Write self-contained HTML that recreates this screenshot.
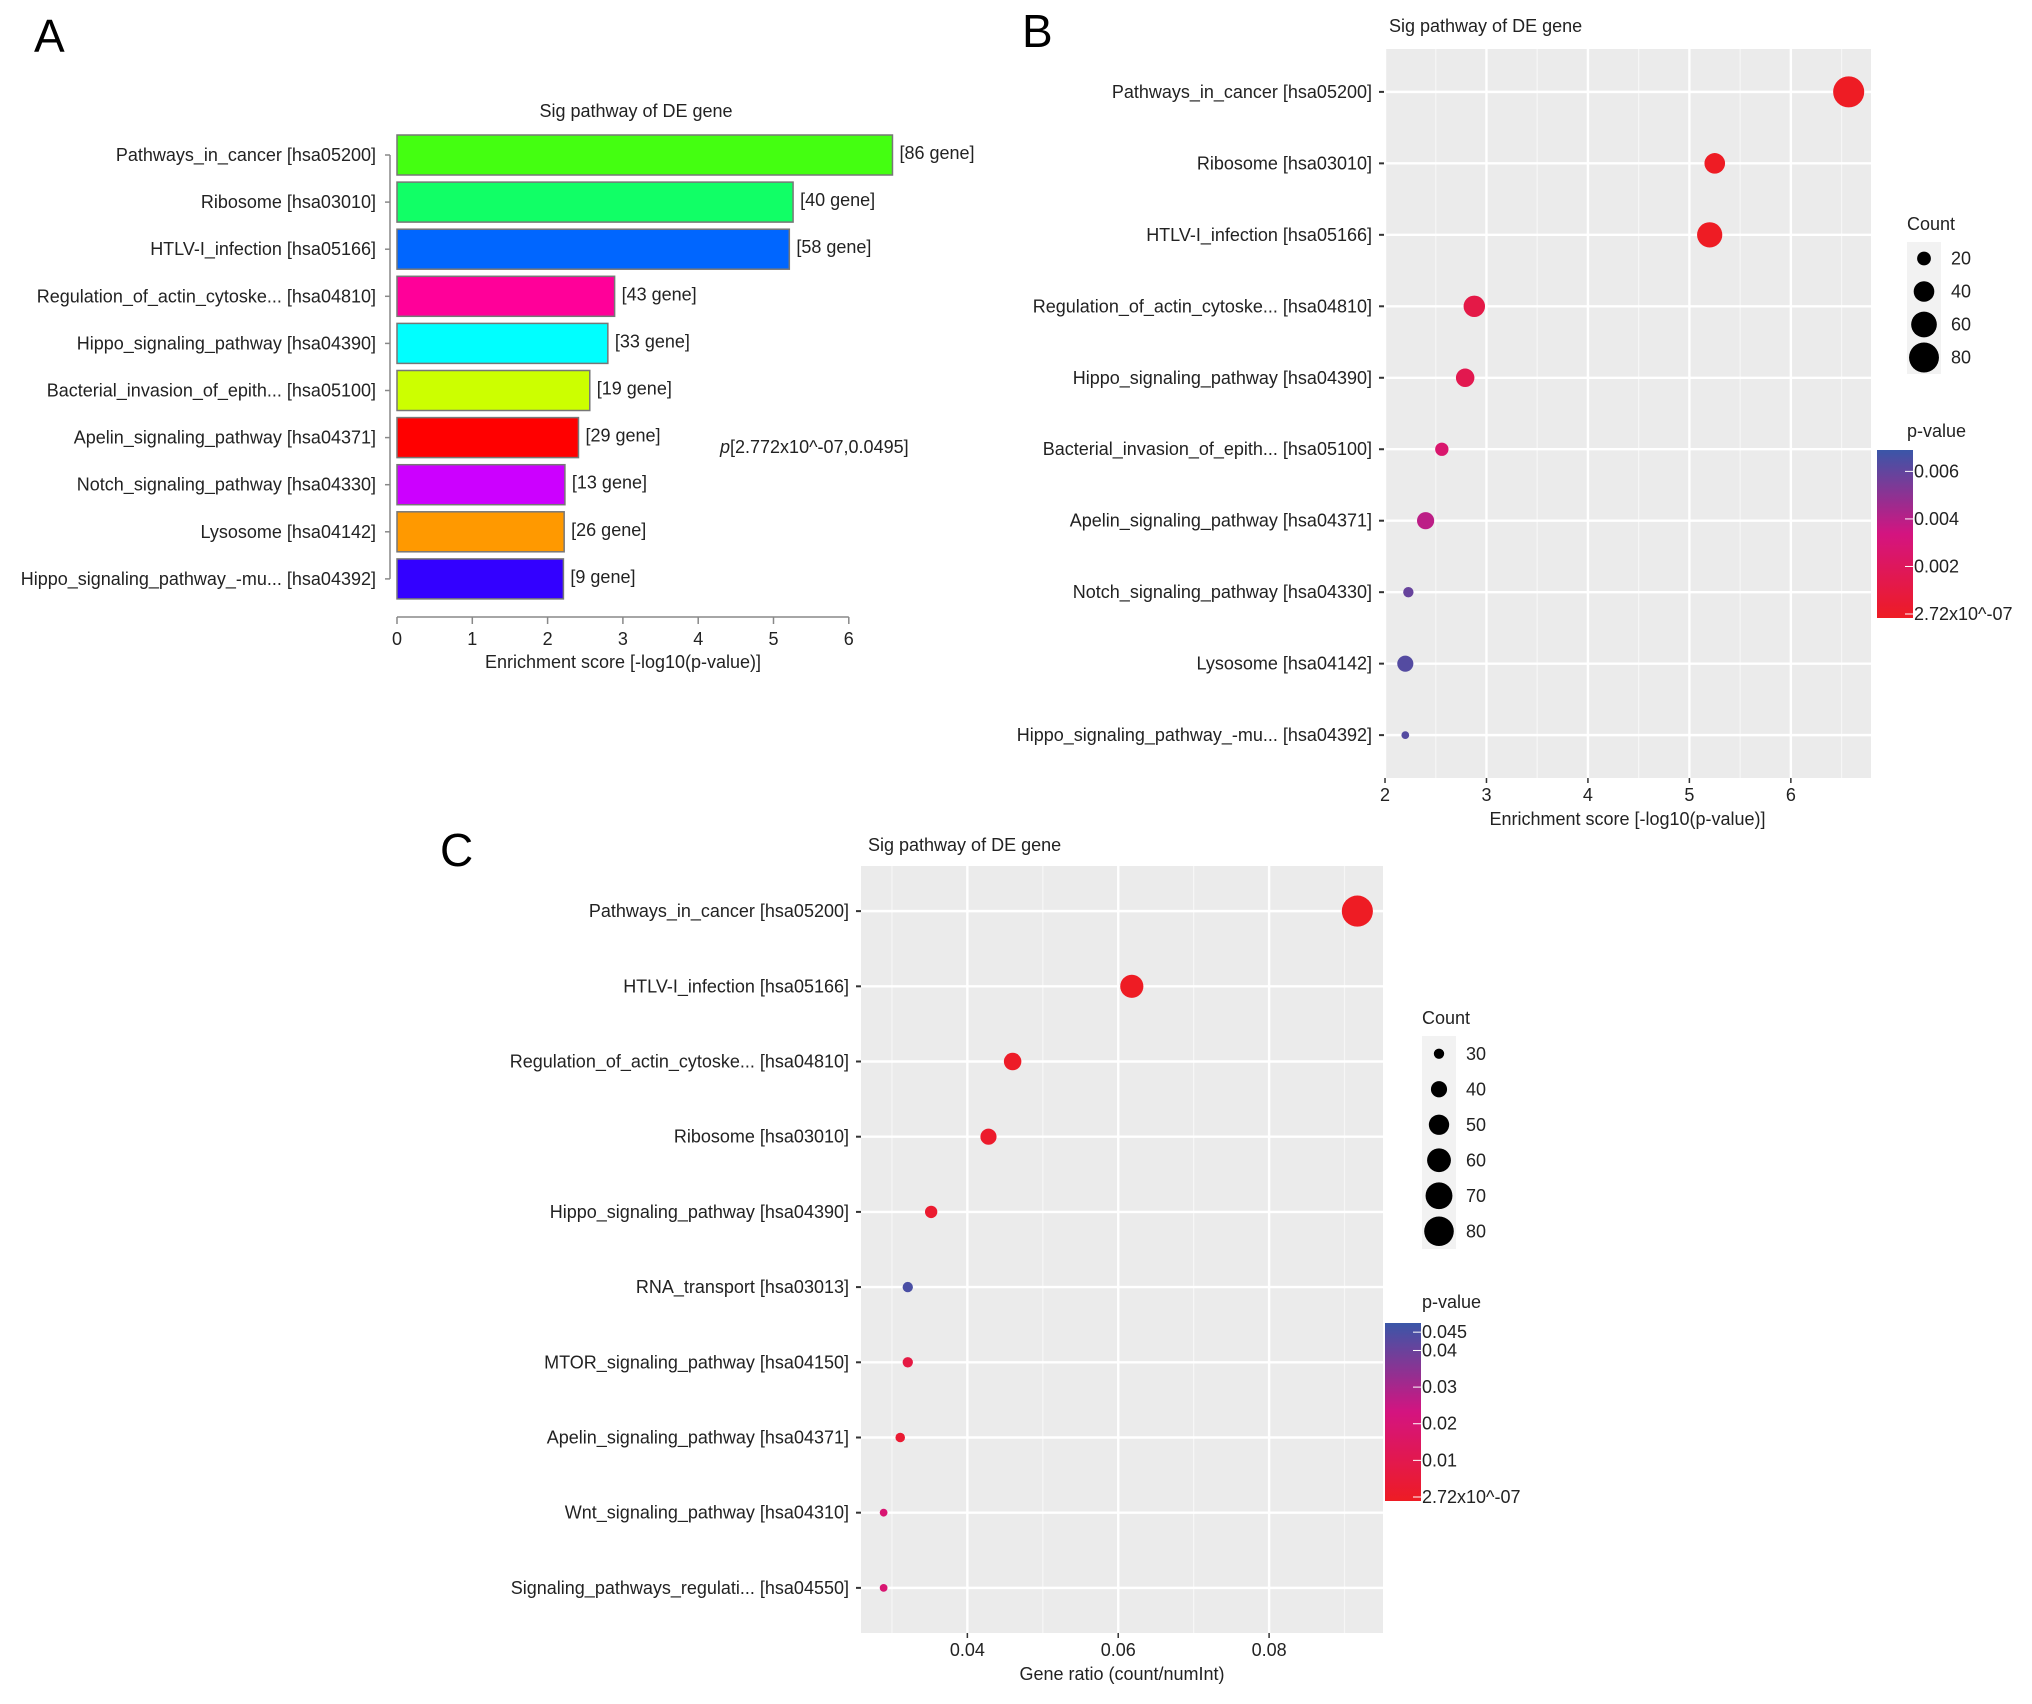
<!DOCTYPE html>
<html><head><meta charset="utf-8"><style>
body{margin:0;background:#fff;}
svg{display:block;font-family:"Liberation Sans",sans-serif;}
</style></head><body>
<svg id="s" width="2032" height="1704" viewBox="0 0 2032 1704">
<text x="34" y="52" font-size="46">A</text>
<text x="1022" y="47" font-size="46">B</text>
<text x="440" y="866" font-size="46">C</text>
</svg>
<script>
const NS='http://www.w3.org/2000/svg';
const svg=document.getElementById('s');
const FS=18;
function mk(tag,attrs,parent){const e=document.createElementNS(NS,tag);for(const k in attrs)e.setAttribute(k,attrs[k]);(parent||svg).appendChild(e);return e;}
function txt(x,y,s,size,anchor,parent,extra){const e=mk('text',Object.assign({x:x,y:y,'font-size':size,'text-anchor':anchor||'start',fill:'#222'},extra||{}),parent);e.textContent=s;return e;}

// ---------- Panel A data ----------
const aCategories=["Pathways_in_cancer [hsa05200]","Ribosome [hsa03010]","HTLV-I_infection [hsa05166]","Regulation_of_actin_cytoske... [hsa04810]","Hippo_signaling_pathway [hsa04390]","Bacterial_invasion_of_epith... [hsa05100]","Apelin_signaling_pathway [hsa04371]","Notch_signaling_pathway [hsa04330]","Lysosome [hsa04142]","Hippo_signaling_pathway_-mu... [hsa04392]"];
const aScores=[6.58,5.26,5.21,2.89,2.80,2.56,2.41,2.23,2.22,2.21];
const aCounts=[86,40,58,43,33,19,29,13,26,9];
const aColors=["#44ff11","#11ff66","#0066ff","#ff0099","#00ffff","#ccff00","#ff0000","#cc00ff","#ff9900","#3300ff"];
const aTicks=[0,1,2,3,4,5,6];

// ---------- Panel B data ----------
const bCategories=aCategories;
const bScores=[6.57,5.25,5.20,2.88,2.79,2.56,2.40,2.23,2.20,2.20];
const bCounts=[86,40,58,43,33,19,29,13,26,9];
const bTicks=[2,3,4,5,6];
const bSizeLegend=[20,40,60,80];
const bColorTicks=[0.006,0.004,0.002,0];
const bColorTickLabels=["0.006","0.004","0.002","2.72x10^-07"];

// ---------- Panel C data ----------
const cCategories=["Pathways_in_cancer [hsa05200]","HTLV-I_infection [hsa05166]","Regulation_of_actin_cytoske... [hsa04810]","Ribosome [hsa03010]","Hippo_signaling_pathway [hsa04390]","RNA_transport [hsa03013]","MTOR_signaling_pathway [hsa04150]","Apelin_signaling_pathway [hsa04371]","Wnt_signaling_pathway [hsa04310]","Signaling_pathways_regulati... [hsa04550]"];
const cRatios=[0.0917,0.0618,0.0460,0.0428,0.0352,0.0321,0.0321,0.0311,0.0289,0.0289];
const cCounts=[86,58,43,40,33,30,30,29,27,27];
const cPvals=[0.0000003,0.0000005,0.001,0.002,0.003,0.045,0.008,0.004,0.02,0.02];
const cTicks=[0.04,0.06,0.08];
const cTickLabels=["0.04","0.06","0.08"];
const cSizeLegend=[30,40,50,60,70,80];
const cColorTicks=[0.045,0.04,0.03,0.02,0.01,0];
const cColorTickLabels=["0.045","0.04","0.03","0.02","0.01","2.72x10^-07"];

function lerpColor(t){
  t=Math.max(0,Math.min(1,t));
  const st=[[238,28,36],[212,20,128],[58,86,168]];
  let a,b,u; if(t<0.5){a=st[0];b=st[1];u=t/0.5;}else{a=st[1];b=st[2];u=(t-0.5)/0.5;}
  return 'rgb('+a.map((v,i)=>Math.round(v+(b[i]-v)*u)).join(',')+')';
}

// ---------- Draw Panel A ----------
(function(){
  const g=mk('g',{});
  const x0=397, unit=75.3, top=135, step=47.1, bh=40;
  const xs=v=>x0+v*unit;
  txt(636,117,"Sig pathway of DE gene",FS,'middle',g);
  mk('line',{x1:390,y1:top+bh/2,x2:390,y2:top+9*step+bh/2,stroke:'#888','stroke-width':1.5},g);
  aCategories.forEach((c,i)=>{
    const y=top+i*step, yc=y+bh/2;
    const r=mk('rect',{x:x0,y:y,width:xs(aScores[i])-x0,height:bh,fill:aColors[i],stroke:'#777','stroke-width':1.5},g);
    
    
    mk('line',{x1:385,y1:yc,x2:390,y2:yc,stroke:'#888','stroke-width':1.5},g);
    const l=txt(376,yc+6,c,FS,'end',g);
    
    
    const v=txt(xs(aScores[i])+7,yc+4,'['+aCounts[i]+' gene]',FS,'start',g);
    
    
  });
  mk('line',{x1:xs(0),y1:617,x2:xs(6),y2:617,stroke:'#888','stroke-width':1.5},g);
  aTicks.forEach(t=>{
    mk('line',{x1:xs(t),y1:617,x2:xs(t),y2:624,stroke:'#888','stroke-width':1.5},g);
    const e=txt(xs(t),645,String(t),FS,'middle',g);
    
    
  });
  txt(623,668,"Enrichment score [-log10(p-value)]",FS,'middle',g);
  const p=mk('text',{x:720,y:453,'font-size':FS,fill:'#222'},g);
  
  p.innerHTML='<tspan font-style="italic">p</tspan>[2.772x10^-07,0.0495]';
})();

// ---------- Dot plot helper ----------
function dotPlot(o){
  const g=mk('g',{});
  const L=o.left,R=o.right,T=o.top,B=o.bottom;
  const xs=v=>L+(v-o.xmin)/(o.xmax-o.xmin)*(R-L);
  const n=o.cats.length, step=(B-T)/(n-1+1.2);
  const ys=i=>T+0.6*step+i*step;
  txt(o.titleX,o.titleY,"Sig pathway of DE gene",FS,'start',g);
  mk('rect',{x:L,y:T,width:R-L,height:B-T,fill:'#ebebeb'},g);
  for(let k=0;k<o.ticks.length+1;k++){
    const mv=o.ticks[0]-o.tickStep/2+k*o.tickStep;
    if(xs(mv)>L&&xs(mv)<R) mk('line',{x1:xs(mv),y1:T,x2:xs(mv),y2:B,stroke:'#f6f6f6','stroke-width':1.2},g);
  }
  o.ticks.forEach((t,k)=>{
    mk('line',{x1:xs(t),y1:T,x2:xs(t),y2:B,stroke:'#fff','stroke-width':2.4},g);
    mk('line',{x1:xs(t),y1:B,x2:xs(t),y2:B+5,stroke:'#333','stroke-width':1.5},g);
    const e=txt(xs(t),B+23,o.tickLabels[k],FS,'middle',g);
    
    
  });
  o.cats.forEach((c,i)=>{
    mk('line',{x1:L,y1:ys(i),x2:R,y2:ys(i),stroke:'#fff','stroke-width':2.4},g);
    mk('line',{x1:L-5,y1:ys(i),x2:L,y2:ys(i),stroke:'#333','stroke-width':2},g);
    const e=txt(L-12,ys(i)+6,c,FS,'end',g);
    
    
  });
  o.cats.forEach((c,i)=>{
    const d=mk('circle',{cx:xs(o.xv[i]),cy:ys(i),r:o.rad(o.counts[i]),fill:lerpColor(o.pv[i]/o.pmax)},g);
    
    
  });
  txt((L+R)/2,B+47,o.xTitle,FS,'middle',g);
  txt(o.legX,o.cntY,"Count",FS,'start',g);
  o.sizes.forEach((s,k)=>{
    const cy=o.cntY+12+k*o.keyStep+o.keyStep/2;
    mk('rect',{x:o.legX,y:cy-o.keyStep/2,width:34,height:o.keyStep,fill:'#f2f2f2'},g);
    const c=mk('circle',{cx:o.legX+17,cy:cy,r:o.rad(s),fill:'#000'},g);
    
    
    txt(o.legX+44,cy+6,String(s),FS,'start',g);
  });
  txt(o.legX,o.cbTitleY,"p-value",FS,'start',g);
  const gid='grad'+o.name;
  const defs=mk('defs',{},g);
  const lg=mk('linearGradient',{id:gid,x1:0,y1:1,x2:0,y2:0},defs);
  for(let k=0;k<=10;k++) mk('stop',{offset:k/10,'stop-color':lerpColor(k/10)},lg);
  const cbX=o.cbX, cbH=o.cbBottom-o.cbTop;
  mk('rect',{x:cbX,y:o.cbTop,width:36,height:cbH,fill:'url(#'+gid+')'},g);
  const py=p=>o.cbBottom-4-(p/o.pmax)*(cbH-4);
  o.cticks.forEach((p,k)=>{
    mk('line',{x1:cbX+28,y1:py(p),x2:cbX+36,y2:py(p),stroke:'#fff','stroke-width':1},g);
    txt(cbX+37,py(p)+6,o.cticklabels[k],FS,'start',g);
  });
}

dotPlot({name:'panel-b',left:1384,right:1871,top:49,bottom:778,xmin:1.99,xmax:6.79,
  cats:bCategories,xv:bScores,counts:bCounts,pv:bScores.map(s=>Math.pow(10,-s)),pmax:0.0069,
  ticks:bTicks,tickLabels:bTicks.map(String),tickStep:1,titleX:1389,titleY:32,
  xTitle:"Enrichment score [-log10(p-value)]",
  rad:c=>1.296*Math.sqrt(9+1.75*(c-9)),
  legX:1907,cntY:230,sizes:bSizeLegend,keyStep:33,
  cbTitleY:437,cbX:1877,cbTop:450,cbBottom:618,cticks:bColorTicks,cticklabels:bColorTickLabels});

dotPlot({name:'panel-c',left:861,right:1383,top:866,bottom:1633,xmin:0.0259,xmax:0.0951,
  cats:cCategories,xv:cRatios,counts:cCounts,pv:cPvals,pmax:0.0475,
  ticks:cTicks,tickLabels:cTickLabels,tickStep:0.02,titleX:868,titleY:851,
  xTitle:"Gene ratio (count/numInt)",
  rad:c=>1.296*Math.sqrt(9+2.29*(c-27)),
  legX:1422,cntY:1024,sizes:cSizeLegend,keyStep:35.5,
  cbTitleY:1308,cbX:1385,cbTop:1323,cbBottom:1501,cticks:cColorTicks,cticklabels:cColorTickLabels});
</script>
</body></html>
